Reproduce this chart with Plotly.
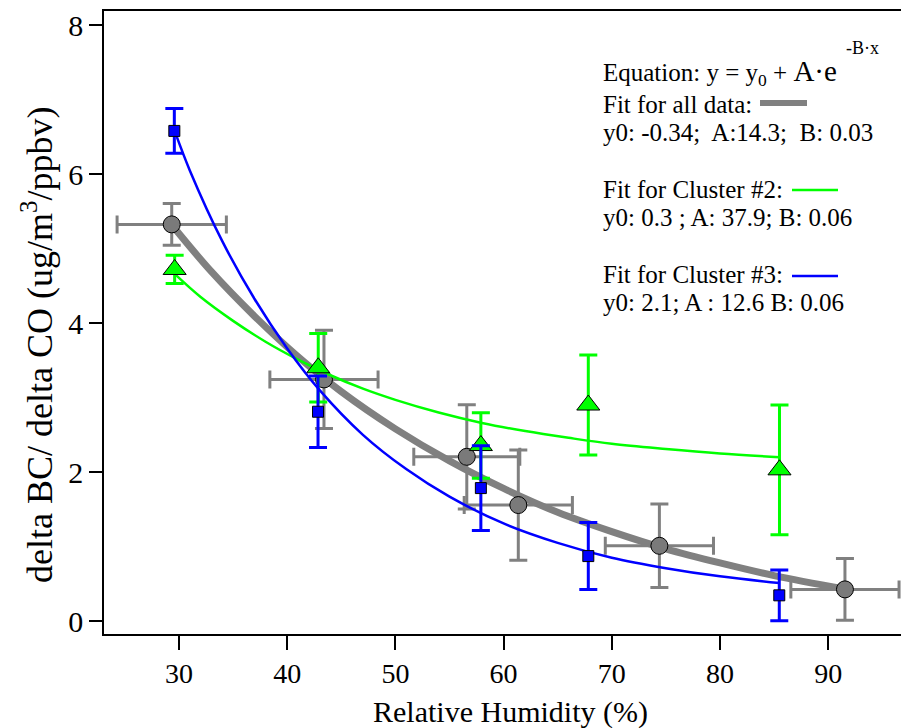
import plotly.graph_objects as go

# ---------------- data ----------------
rh_all = [29.33, 43.4, 56.6, 61.36, 74.4, 91.55]
ratio_all = [5.325, 3.244, 2.205, 1.557, 1.01, 0.425]
rh_all_err = [5.05, 5.0, 4.9, 5.0, 5.0, 5.0]
ratio_all_err = [0.28, 0.66, 0.70, 0.74, 0.56, 0.415]

rh_c2 = [29.6, 42.87, 57.9, 67.83, 85.5]
ratio_c2 = [4.72, 3.40, 2.356, 2.90, 2.03]
ratio_c2_err = [0.19, 0.46, 0.44, 0.67, 0.87]

rh_c3 = [29.57, 42.85, 57.9, 67.83, 85.48]
ratio_c3 = [6.58, 2.81, 1.785, 0.872, 0.345]
ratio_c3_err = [0.30, 0.48, 0.57, 0.45, 0.34]

# fitted curves
fit_all_x = [29.33, 33, 37, 41, 45, 50, 55, 60, 65, 70, 75, 80, 85, 91.55]
fit_all_y = [5.32, 4.69, 4.09, 3.55, 3.08, 2.58, 2.15, 1.78, 1.46, 1.20, 0.97, 0.78, 0.61, 0.43]

fit_c2_x = [29.6, 32, 35, 38, 41, 44, 47, 50, 54, 58, 62, 66, 70, 75, 80, 85.5]
fit_c2_y = [4.66, 4.35, 4.03, 3.75, 3.51, 3.30, 3.12, 2.97, 2.80, 2.66, 2.55, 2.46, 2.38, 2.31, 2.25, 2.20]

fit_c3_x = [29.6, 31, 34, 37, 40, 43, 47, 51, 55, 60, 65, 70, 75, 80, 85.5]
fit_c3_y = [6.58, 6.05, 5.10, 4.32, 3.66, 3.10, 2.50, 2.04, 1.67, 1.31, 1.05, 0.85, 0.71, 0.60, 0.51]

x_ticks = [30, 40, 50, 60, 70, 80, 90]
y_ticks = [0, 2, 4, 6, 8]

GRAY = "#808080"
GREEN = "#00FF00"
BLUE = "#0000FF"
FONT = "Liberation Serif"

W, H = 901, 728
L, R, T, B = 104, 0, 11, 94
PW, PH = W - L - R, H - T - B


def px(x):
    return (x - L) / PW


def py(y):
    return (H - B - y) / PH


fig = go.Figure()

# all data
fig.add_trace(go.Scatter(x=fit_all_x, y=fit_all_y, mode="lines",
                         line=dict(color=GRAY, width=7, shape="spline"),
                         hoverinfo="skip", showlegend=False))
fig.add_trace(go.Scatter(
    x=rh_all, y=ratio_all, mode="markers",
    marker=dict(symbol="circle", size=17, color="#7a7a7a",
                line=dict(color="black", width=1)),
    error_x=dict(type="data", array=rh_all_err, color=GRAY, thickness=3, width=9),
    error_y=dict(type="data", array=ratio_all_err, color=GRAY, thickness=3, width=9),
    showlegend=False))

# cluster 2
fig.add_trace(go.Scatter(x=fit_c2_x, y=fit_c2_y, mode="lines",
                         line=dict(color=GREEN, width=2.5, shape="spline"),
                         hoverinfo="skip", showlegend=False))
fig.add_trace(go.Scatter(
    x=rh_c2, y=ratio_c2, mode="markers",
    marker=dict(symbol="triangle-up", size=20, color=GREEN,
                line=dict(color="black", width=1)),
    error_y=dict(type="data", array=ratio_c2_err, color=GREEN, thickness=3, width=9),
    showlegend=False))

# cluster 3
fig.add_trace(go.Scatter(x=fit_c3_x, y=fit_c3_y, mode="lines",
                         line=dict(color=BLUE, width=2.5, shape="spline"),
                         hoverinfo="skip", showlegend=False))
fig.add_trace(go.Scatter(
    x=rh_c3, y=ratio_c3, mode="markers",
    marker=dict(symbol="square", size=11, color=BLUE,
                line=dict(color="black", width=1)),
    error_y=dict(type="data", array=ratio_c3_err, color=BLUE, thickness=3, width=9),
    showlegend=False))

annotations = []


def add_text(text, x_px, y_px, size=25, xanchor="left"):
    annotations.append(dict(text=text, x=px(x_px), y=py(y_px), xref="paper", yref="paper",
                            xanchor=xanchor, yanchor="middle", showarrow=False,
                            font=dict(family=FONT, size=size, color="black")))


add_text("Equation: y = y<sub>0</sub> + <span style='font-size:29px'>A·e</span>", 601, 72)
add_text("-B·x", 844, 48, size=18)
add_text("Fit for all data:", 601, 104)
add_text("y0: -0.34;&nbsp; A:14.3;&nbsp; B: 0.03", 601, 132)
add_text("Fit for Cluster #2:", 601, 189)
add_text("y0: 0.3 ; A: 37.9; B: 0.06", 601, 217)
add_text("Fit for Cluster #3:", 601, 274)
add_text("y0: 2.1; A : 12.6 B: 0.06", 601, 302)

# axis titles
annotations.append(dict(text="Relative Humidity (%)", x=px(510), y=py(712), xref="paper", yref="paper",
                        xanchor="center", yanchor="middle", showarrow=False,
                        font=dict(family=FONT, size=30, color="black")))
annotations.append(dict(text="delta BC/ delta CO (ug/m<sup>3</sup>/ppbv)", x=px(37), y=py(345),
                        xref="paper", yref="paper", xanchor="center", yanchor="middle",
                        textangle=-90, showarrow=False,
                        font=dict(family=FONT, size=36, color="black")))

shapes = [
    dict(type="line", xref="paper", yref="paper", x0=px(760), x1=px(807), y0=py(103), y1=py(103),
         line=dict(color=GRAY, width=6)),
    dict(type="line", xref="paper", yref="paper", x0=px(792), x1=px(838), y0=py(190), y1=py(190),
         line=dict(color=GREEN, width=2.5)),
    dict(type="line", xref="paper", yref="paper", x0=px(792), x1=px(838), y0=py(276), y1=py(276),
         line=dict(color=BLUE, width=2.5)),
]

fig.update_layout(
    width=W, height=H,
    margin=dict(l=L, r=R, t=T, b=B, autoexpand=False),
    paper_bgcolor="white", plot_bgcolor="white",
    font=dict(family=FONT, color="black"),
    annotations=annotations, shapes=shapes,
    showlegend=False,
)
fig.update_xaxes(range=[23.07, 96.73], tickvals=x_ticks, ticks="outside", ticklen=14,
                 tickwidth=1.5, tickcolor="black", showline=True, linecolor="black", linewidth=1.5,
                 mirror=True,
                 showgrid=False, zeroline=False, tickfont=dict(family=FONT, size=28))
fig.update_yaxes(range=[-0.174, 8.19], tickvals=y_ticks, ticks="outside", ticklen=13,
                 tickwidth=1.5, tickcolor="black", showline=True, linecolor="black", linewidth=1.5,
                 showgrid=False, zeroline=False, tickfont=dict(family=FONT, size=30))

fig.write_html("out.html", config={"displayModeBar": False},
               post_script="document.body.style.margin='0';document.body.style.overflow='hidden';")
